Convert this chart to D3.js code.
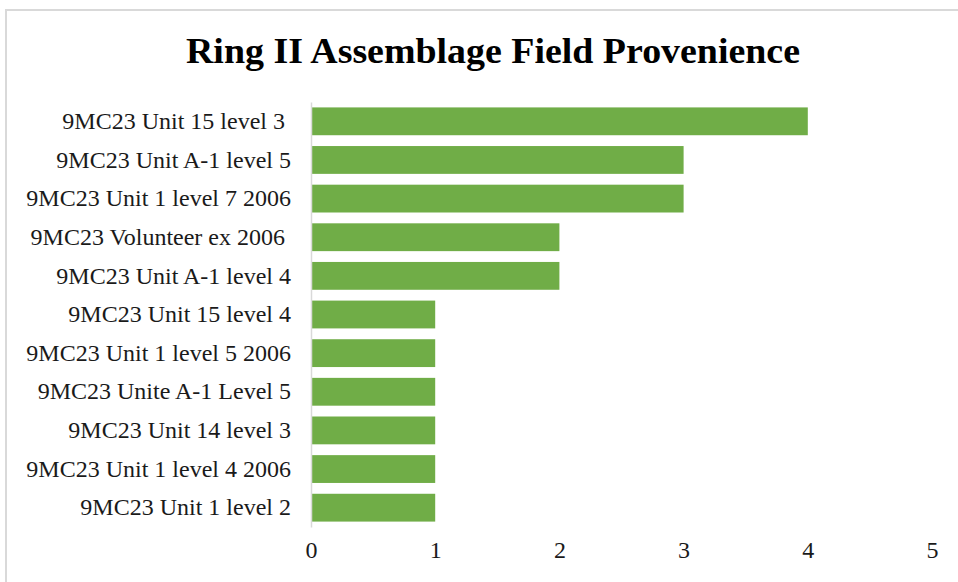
<!DOCTYPE html>
<html>
<head>
<meta charset="utf-8">
<script src="https://cdn.jsdelivr.net/npm/d3@7"></script>
<style>
  body { margin: 0; background: #fff; }
  svg { display: block; }
</style>
</head>
<body>
<div id="chart"></div>
<script>
// chart data
var categories = [
    "9MC23 Unit 15 level 3 ",
    "9MC23 Unit A-1 level 5",
    "9MC23 Unit 1 level 7 2006",
    "9MC23 Volunteer ex 2006 ",
    "9MC23 Unit A-1 level 4",
    "9MC23 Unit 15 level 4",
    "9MC23 Unit 1 level 5 2006",
    "9MC23 Unite A-1 Level 5",
    "9MC23 Unit 14 level 3",
    "9MC23 Unit 1 level 4 2006",
    "9MC23 Unit 1 level 2"
];
var counts = [4, 3, 3, 2, 2, 1, 1, 1, 1, 1, 1];
var xTicks = [0, 1, 2, 3, 4, 5];
var title = "Ring II Assemblage Field Provenience";

var width = 958, height = 582;
var serif = "'Liberation Serif', 'Times New Roman', serif";

var svg = d3.select("#chart").append("svg")
    .attr("width", width)
    .attr("height", height);

// frame around chart area
svg.append("path")
    .attr("d", "M6,582 L6,10 L958,10")
    .attr("fill", "none")
    .attr("stroke", "#d9d9d9")
    .attr("stroke-width", 2);

var x = d3.scaleLinear().domain([0, 5]).range([311, 932]);
var y = d3.scaleBand()
    .domain(categories)
    .range([102, 527])
    .paddingInner(0.28)
    .paddingOuter(0.14);

var data = categories.map(function (c, i) { return { name: c, value: counts[i] }; });

svg.append("text")
    .attr("x", 493)
    .attr("y", 63)
    .attr("text-anchor", "middle")
    .attr("font-family", serif)
    .attr("font-weight", "bold")
    .attr("font-size", 35)
    .attr("fill", "#000")
    .attr("textLength", 614)
    .attr("lengthAdjust", "spacingAndGlyphs")
    .text(title);

svg.selectAll("rect.bar")
    .data(data)
    .enter().append("rect")
    .attr("class", "bar")
    .attr("x", x(0))
    .attr("y", function (d) { return y(d.name); })
    .attr("width", function (d) { return x(d.value) - x(0); })
    .attr("height", y.bandwidth())
    .attr("fill", "#70ad47");

// category axis
var yAxis = svg.append("g")
    .attr("transform", "translate(" + x(0) + ",0)")
    .call(d3.axisLeft(y).tickSize(0).tickPadding(20));
yAxis.select(".domain").attr("stroke", "#d9d9d9").attr("stroke-width", 1.5);
yAxis.selectAll("text")
    .attr("font-family", serif)
    .attr("font-size", 24)
    .attr("fill", "#1a1a1a")
    .style("white-space", "pre");

// value axis, labels only
var xAxis = svg.append("g")
    .attr("transform", "translate(0,527)")
    .call(d3.axisBottom(x).tickValues(xTicks).tickFormat(d3.format("d")).tickSize(0).tickPadding(14));
xAxis.select(".domain").remove();
xAxis.selectAll("text")
    .attr("font-family", serif)
    .attr("font-size", 24)
    .attr("fill", "#1a1a1a");
</script>
</body>
</html>
